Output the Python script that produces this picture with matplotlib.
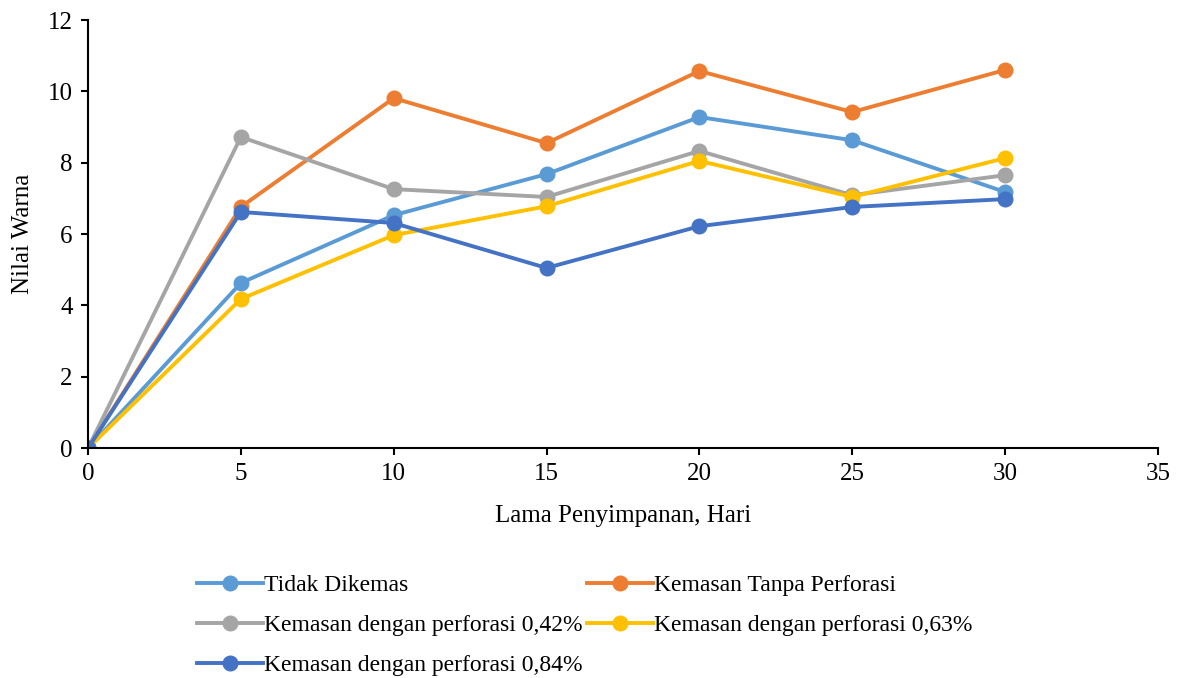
import numpy as np
import matplotlib.pyplot as plt

plt.rcParams['font.family'] = ['Liberation Serif', 'DejaVu Serif']

hari = [0, 5, 10, 15, 20, 25, 30]
tidak_dikemas = [0, 4.63, 6.53, 7.68, 9.28, 8.63, 7.18]
tanpa_perforasi = [0, 6.76, 9.81, 8.55, 10.57, 9.42, 10.60]
perforasi_042 = [0, 8.72, 7.26, 7.04, 8.33, 7.09, 7.65]
perforasi_063 = [0, 4.18, 5.97, 6.78, 8.05, 7.04, 8.13]
perforasi_084 = [0, 6.62, 6.31, 5.05, 6.22, 6.76, 6.98]

series = [
    ("Tidak Dikemas", tidak_dikemas, "#5B9BD5"),
    ("Kemasan Tanpa Perforasi", tanpa_perforasi, "#ED7D31"),
    ("Kemasan dengan perforasi 0,42%", perforasi_042, "#A5A5A5"),
    ("Kemasan dengan perforasi 0,63%", perforasi_063, "#FFC000"),
    ("Kemasan dengan perforasi 0,84%", perforasi_084, "#4472C4"),
]

fig = plt.figure(figsize=(11.77, 6.78), dpi=100)
ax = fig.add_axes([0.0748, 0.339, 0.909, 0.6315])

lines = []
for name, vals, col in series:
    ln, = ax.plot(hari, vals, color=col, lw=2.8, marker='o', ms=10.5, label=name)
    lines.append(ln)

ax.set_xlim(0, 35)
ax.set_ylim(0, 12)
ax.set_xticks(range(0, 36, 5))
ax.set_yticks(range(0, 13, 2))
ax.spines['top'].set_visible(False)
ax.spines['right'].set_visible(False)
ax.spines['left'].set_linewidth(1.5)
ax.spines['bottom'].set_linewidth(1.5)
ax.tick_params(direction='out', length=5, width=1.5, labelsize=18, pad=6)
ax.set_xlabel("Lama Penyimpanan, Hari", fontsize=18, labelpad=14)
ax.set_ylabel("Nilai Warna", fontsize=18, labelpad=10)

# row-major order like the original legend
order = [0, 2, 4, 1, 3]
fig.legend([lines[i] for i in order], [series[i][0] for i in order],
           loc='upper left', bbox_to_anchor=(0.159, 0.166), ncol=2, frameon=False,
           fontsize=17, handlelength=2.8, handletextpad=0.05, columnspacing=0.2,
           labelspacing=0.78, borderaxespad=0)

fig.savefig("out.png", dpi=100)
